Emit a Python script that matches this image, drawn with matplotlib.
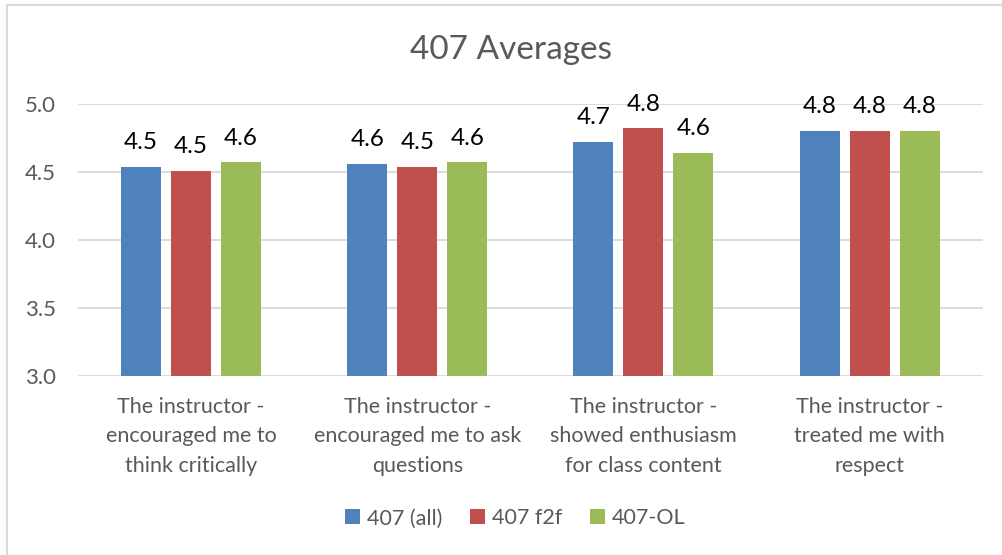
import numpy as np
import matplotlib.pyplot as plt
from matplotlib.patches import Patch
from matplotlib.lines import Line2D

categories = [
    "The instructor -\nencouraged me to\nthink critically",
    "The instructor -\nencouraged me to ask\nquestions",
    "The instructor -\nshowed enthusiasm\nfor class content",
    "The instructor -\ntreated me with\nrespect",
]
series_names = ["407 (all)", "407 f2f", "407-OL"]
all_vals = [4.54, 4.56, 4.72, 4.80]
f2f_vals = [4.51, 4.54, 4.82, 4.80]
ol_vals = [4.57, 4.57, 4.64, 4.80]
colors = ["#4f81bd", "#c0504d", "#9bbb59"]

plt.rcParams['font.family'] = ['Lato', 'DejaVu Sans']
gray = "#595959"

fig = plt.figure(figsize=(10.02, 5.55), dpi=100)
ax = fig.add_axes([0.0778, 0.3225, 0.903, 0.4901])

x = np.arange(len(categories))
width = 0.177
step = 0.221
for i, vals in enumerate([all_vals, f2f_vals, ol_vals]):
    pos = x + (i - 1) * step
    ax.bar(pos, np.array(vals) - 3.0, width, bottom=3.0, color=colors[i], zorder=3)
    for px, v in zip(pos, vals):
        ax.annotate(f"{v:.1f}", (px, v), xytext=(0, 10), textcoords="offset points",
                    ha="center", va="bottom", fontsize=17.5, color="black")

ax.set_xlim(-0.5, 3.5)
ax.set_ylim(3.0, 5.0)
ax.set_yticks([3.0, 3.5, 4.0, 4.5, 5.0])
ax.set_yticklabels(["3.0", "3.5", "4.0", "4.5", "5.0"])
ax.yaxis.grid(True, color="#d9d9d9", linewidth=1.3, zorder=0)
ax.set_axisbelow(True)
for s in ax.spines.values():
    s.set_visible(False)
ax.tick_params(axis="y", length=0, pad=16, labelsize=16, labelcolor=gray)
ax.set_xticks(x)
ax.set_xticklabels(categories, linespacing=1.6)
ax.tick_params(axis="x", length=0, pad=15, labelsize=15.5, labelcolor=gray)

fig.text(0.51, 0.91, "407 Averages", ha="center", va="center", fontsize=24, color=gray)

handles = [Patch(facecolor=c, edgecolor="none") for c in colors]
fig.legend(handles, series_names, loc="center", bbox_to_anchor=(0.514, 0.066), ncol=3,
           frameon=False, fontsize=15.5, labelcolor=gray, handlelength=0.7,
           handleheight=0.7, handletextpad=0.3, columnspacing=1.3)

# chart border (top and left edges)
fig.add_artist(Line2D([7 / 1002, 7 / 1002], [0, 1 - 5 / 555], transform=fig.transFigure,
                      color="#d9d9d9", linewidth=1.5))
fig.add_artist(Line2D([7 / 1002, 1], [1 - 5 / 555, 1 - 5 / 555], transform=fig.transFigure,
                      color="#d9d9d9", linewidth=1.5))

fig.savefig("out.png", dpi=100)
